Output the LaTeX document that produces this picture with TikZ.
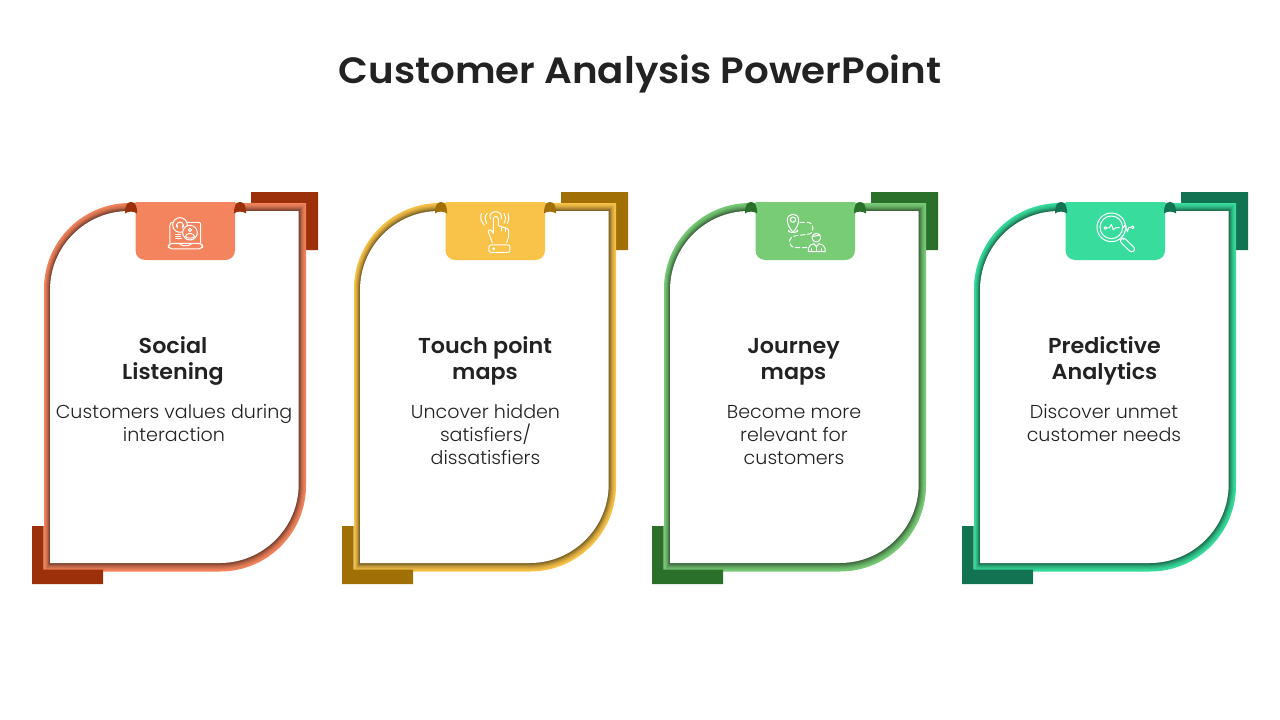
\documentclass[tikz,border=0pt]{standalone}
\usepackage{fontspec}
\setmainfont{Poppins}[UprightFont=* Light,BoldFont=* SemiBold]
\newfontfamily\titlef{Poppins}[UprightFont=* SemiBold,FakeStretch=1.06]
\newfontfamily\headf{Poppins}[UprightFont=* SemiBold,FakeStretch=1.03]
\newfontfamily\bodyf{Poppins}[UprightFont=* Light,FakeStretch=1.02]
\definecolor{txt}{HTML}{222222}
\definecolor{oA}{HTML}{F4845D}\definecolor{oB}{HTML}{9C300A}
\definecolor{yA}{HTML}{F9C349}\definecolor{yB}{HTML}{A07006}
\definecolor{gA}{HTML}{78CC76}\definecolor{gB}{HTML}{2A702A}
\definecolor{tA}{HTML}{38DD9D}\definecolor{tB}{HTML}{127353}
\tikzset{
  headtext/.style={text=txt,align=center,font=\fontsize{21.6}{26}\selectfont\headf,inner sep=0pt,anchor=base},
  bodytext/.style={text=txt,align=center,font=\fontsize{18.7}{22.6}\selectfont\bodyf,inner sep=0pt,anchor=base},
  iconline/.style={draw=white,line width=1pt,line cap=round,line join=round},
}
% #1 x offset, #2 light colour, #3 dark colour
\newcommand{\cardframe}[3]{%
  \begin{scope}[shift={(#1,0)}]
    \fill[#3] (251,192) -- (318,192) -- (318,250) -- (305.5,250) -- (305.5,203.5) -- (251,203.5) -- cycle;
    \foreach \i in {0,...,16}{
      \pgfmathsetmacro{\t}{\i/16}
      \pgfmathsetmacro{\mixp}{100-58*\t^1.6}
      \pgfmathsetmacro{\Lx}{44+6*\t}\pgfmathsetmacro{\Ty}{203+8*\t}
      \pgfmathsetmacro{\Rx}{306-7.3*\t}\pgfmathsetmacro{\By}{571.5-8.5*\t}
      \pgfmathsetmacro{\ra}{86-7*\t}
      \pgfmathsetmacro{\rk}{\ra*0.448}
      \ifnum\i=16\relax\def\ringcol{white}\else\def\ringcol{#2!\mixp!black}\fi
      \fill[fill=\ringcol]
        (\Lx,\Ty+\ra) .. controls (\Lx,\Ty+\rk) and (\Lx+\rk,\Ty) .. (\Lx+\ra,\Ty)
        -- (\Rx,\Ty) -- (\Rx,\By-\ra)
        .. controls (\Rx,\By-\rk) and (\Rx-\rk,\By) .. (\Rx-\ra,\By)
        -- (\Lx,\By) -- cycle;
    }
    \fill[#3] (32,526) -- (43.5,526) -- (43.5,569.5) -- (103,569.5) -- (103,584) -- (32,584) -- cycle;
    \fill[#2] (135.5,202) -- (235,202) -- (235,250) .. controls (235,256) and (231,260) .. (225,260)
      -- (145.5,260) .. controls (139.5,260) and (135.5,256) .. (135.5,250) -- cycle;
    \foreach \ex in {125,234}{
      \fill[#3] (\ex,213.5) .. controls (\ex,205.5) and (\ex+2,202) .. (\ex+6,202)
        .. controls (\ex+10,202) and (\ex+12,205.5) .. (\ex+12.2,213.5)
        .. controls (\ex+9,211) and (\ex+3,211) .. (\ex,213.5) -- cycle;
    }
  \end{scope}}
\begin{document}
\begin{tikzpicture}[x=1pt,y=-1pt]
\useasboundingbox (0,0) rectangle (1280,720);
\fill[white] (0,0) rectangle (1280,720);
\node[text=txt,inner sep=0pt,anchor=base,font=\fontsize{36.6}{40}\selectfont\titlef] (title) at (640,83.5) {Customer Analysis PowerPoint};

\cardframe{0}{oA}{oB}
\cardframe{310}{yA}{yB}
\cardframe{620}{gA}{gB}
\cardframe{930}{tA}{tB}

% Texts
\node[headtext] (h1) at (173,379) {Social\\Listening};
\node[bodytext] (b1) at (174,441) {Customers values during\\interaction};
\node[headtext] (h2) at (485,379) {Touch point\\maps};
\node[bodytext] (b2) at (485.5,464) {Uncover hidden\\satisfiers/\\dissatisfiers};
\node[headtext] (h3) at (793.5,379) {Journey\\maps};
\node[bodytext] (b3) at (794,464) {Become more\\relevant for\\customers};
\node[headtext] (h4) at (1104.5,379) {Predictive\\Analytics};
\node[bodytext] (b4) at (1104,441) {Discover unmet\\customer needs};

% Icon 1: laptop with headset and person
\begin{scope}[shift={(110,195)},x=.3333pt,y=-.3333pt]
  \draw[iconline] (272,145) -- (272,88) .. controls (272,84) and (270,82) .. (266,82) -- (190,82) .. controls (184,82) and (180,84) .. (180,90) -- (180,145);
  \draw[iconline,rounded corners=4pt] (175,145) rectangle (278,162);
  \draw[iconline,rounded corners=2pt] (208,145) -- (212,152) -- (241,152) -- (245,145);
  \draw[iconline,fill=oA] (210,90) circle[radius=22pt*.3333];
  \draw[iconline,fill=oA] (240,113) circle[radius=22pt*.3333];
  \draw[iconline] (199,96) .. controls (199,76) and (221,76) .. (221,96);
  \draw[iconline] (202,92) -- (202,99) (218,92) -- (218,99);
  \draw[iconline] (240,105) circle[radius=5pt*.3333];
  \draw[iconline] (226,125) .. controls (228,112) and (252,112) .. (254,125) .. controls (248,131) and (232,131) .. (226,125);
  \draw[iconline] (197,118) -- (212,118) (197,125) -- (212,125) (197,132) -- (214,132);
\end{scope}

% Icon 2: hand tapping
\begin{scope}[shift={(430,195)},x=.3333pt,y=-.3333pt]
  \draw[iconline,rounded corners=2pt] (177,150) rectangle (240,172);
  \draw[iconline] (191,161) circle[radius=3pt*.3333];
  \draw[iconline] (187,143) -- (175,110) .. controls (175,102) and (184,102) .. (190,115)
    -- (190,72) .. controls (190,62) and (205,62) .. (205,72) -- (205,92) -- (230,100)
    .. controls (235,102) and (236,104) .. (236,110) -- (236,125) -- (230,143);
  \draw[iconline] (216,95) -- (216,108) (226,98) -- (226,110);
  \draw[iconline] (181,72) .. controls (176,60) and (184,50) .. (197,50) .. controls (210,50) and (217,60) .. (214,72);
  \draw[iconline] (170,85) .. controls (163,70) and (165,60) .. (172,55);
  \draw[iconline] (222,55) .. controls (228,62) and (228,72) .. (222,85);
  \draw[iconline] (163,90) .. controls (150,75) and (150,65) .. (155,55);
  \draw[iconline] (234,55) .. controls (238,65) and (237,75) .. (232,85);
\end{scope}

% Icon 3: map route with person
\begin{scope}[shift={(740,195)},x=.3333pt,y=-.3333pt]
  \draw[iconline] (159,112) .. controls (150,100) and (142,90) .. (142,75) .. controls (142,52) and (176,52) .. (176,75) .. controls (176,90) and (168,100) .. (159,112) -- cycle;
  \draw[iconline] (159,74) circle[radius=8pt*.3333];
  \draw[iconline] (147,105) -- (145,108) .. controls (148,114) and (170,114) .. (173,108) -- (171,105);
  \draw[iconline,dashed,dash pattern=on 4.5pt off 2.5pt] (180,82) -- (202,82) .. controls (225,82) and (225,118) .. (202,118) -- (168,122) .. controls (142,124) and (142,158) .. (168,158) -- (205,158);
  \draw[iconline,fill=gA] (229,128) circle[radius=13pt*.3333];
  \draw[iconline] (216,125) .. controls (226,124) and (236,120) .. (240,118);
  \draw[iconline] (205,170) -- (205,160) .. controls (205,152) and (214,148) .. (222,146) -- (229,155) -- (237,146) .. controls (246,148) and (255,152) .. (255,160) -- (255,170) -- cycle;
  \draw[iconline] (229,155) -- (229,170) (214,160) -- (214,170) (245,160) -- (245,170);
\end{scope}

% Icon 4: magnifier with pulse
\begin{scope}[shift={(1050,195)},x=.3333pt,y=-.3333pt]
  \draw[iconline] (184,97) circle[radius=43pt*.3333];
  \draw[iconline] (184,97) circle[radius=34pt*.3333];
  \draw[iconline] (166,99) circle[radius=4pt*.3333];
  \draw[iconline] (170,99) -- (178,99) -- (184,88) -- (190,104) -- (198,98) -- (208,98);
  \draw[iconline] (220,98) -- (226,88) -- (232,110) -- (237,97) -- (244,97);
  \draw[iconline] (248,97) circle[radius=4pt*.3333];
  \draw[iconline] (214,127) -- (221,134);
  \draw[iconline] (226,132) -- (251,156) .. controls (259,164) and (247,176) .. (239,168) -- (214,144) .. controls (206,136) and (218,124) .. (226,132) -- cycle;
\end{scope}
\end{tikzpicture}
\end{document}
